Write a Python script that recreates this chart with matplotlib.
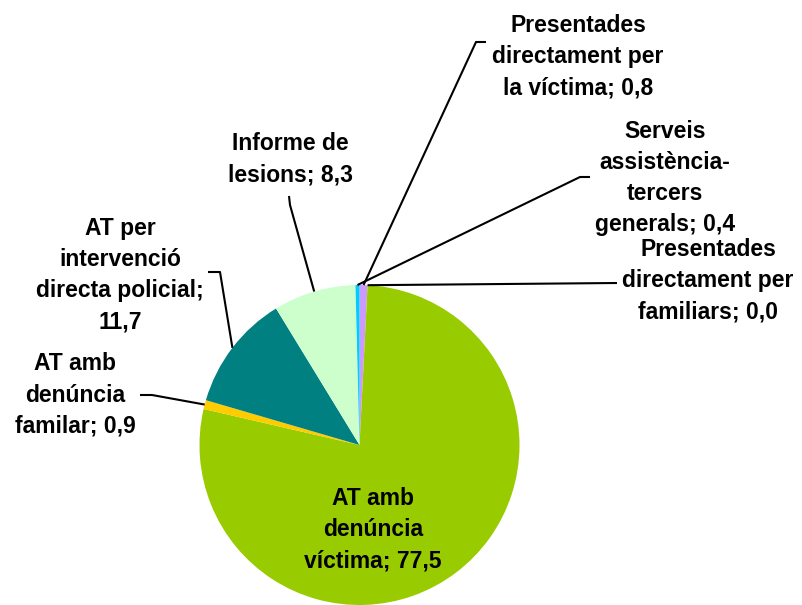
import numpy as np
import matplotlib.pyplot as plt

# slices in drawing order (clockwise from 12 o'clock)
labels = ['Presentades\ndirectament per\nla víctima; 0,8',
          'Presentades\ndirectament per\nfamiliars; 0,0',
          'AT amb\ndenúncia\nvíctima; 77,5',
          'AT amb\ndenúncia\nfamilar; 0,9',
          'AT per\nintervenció\ndirecta policial;\n11,7',
          'Informe de\nlesions; 8,3',
          'Serveis\nassistència-\ntercers\ngenerals; 0,4']
values = [0.8, 0.0, 77.5, 0.9, 11.7, 8.3, 0.4]
colors = ['#CC99FF', '#FF99CC', '#99CC00', '#FFCC00', '#008080', '#CCFFCC', '#00CCFF']

# label placement in pixels (x, y from top) and leader elbow / tick end
W, H = 802, 605
cx, cy, R = 359.5, 445, 160
label_pos = [(578, 57), (708, 281), (373, 530), (75, 395), (120, 275), (290, 159), (665, 178)]
elbows = [((476, 42), (486, 42)),
          ((617, 283), (617, 283)),
          None,
          ((152, 395), (140, 395)),
          ((220, 272), (208, 272)),
          ((290, 205), (289, 196)),
          ((580, 177), (590, 177))]

fig = plt.figure(figsize=(W / 100, H / 100), dpi=100)
ax = fig.add_axes([0, 0, 1, 1])

wedges, _ = ax.pie(values, colors=colors, startangle=90, counterclock=False,
                   center=(cx, H - cy), radius=R,
                   wedgeprops=dict(linewidth=0))
ax.set_xlim(0, W)
ax.set_ylim(0, H)
ax.set_aspect('auto')
ax.axis('off')

font = dict(family=['Liberation Sans', 'DejaVu Sans'], fontsize=16.5, fontweight='bold')

for w, lab, (tx, ty), el in zip(wedges, labels, label_pos, elbows):
    ax.text(tx, H - ty, lab, ha='center', va='center', multialignment='center',
            linespacing=1.45, color='black', **font)
    if el is None:
        continue
    ang = np.deg2rad((w.theta1 + w.theta2) / 2)
    px = cx + R * np.cos(ang)
    py = (H - cy) + R * np.sin(ang)
    (ex, ey), (kx, ky) = el
    ax.plot([px, ex, kx], [py, H - ey, H - ky], color='black', lw=1.5,
            solid_capstyle='butt', zorder=3)

fig.savefig('out.png', dpi=100, facecolor='white')
